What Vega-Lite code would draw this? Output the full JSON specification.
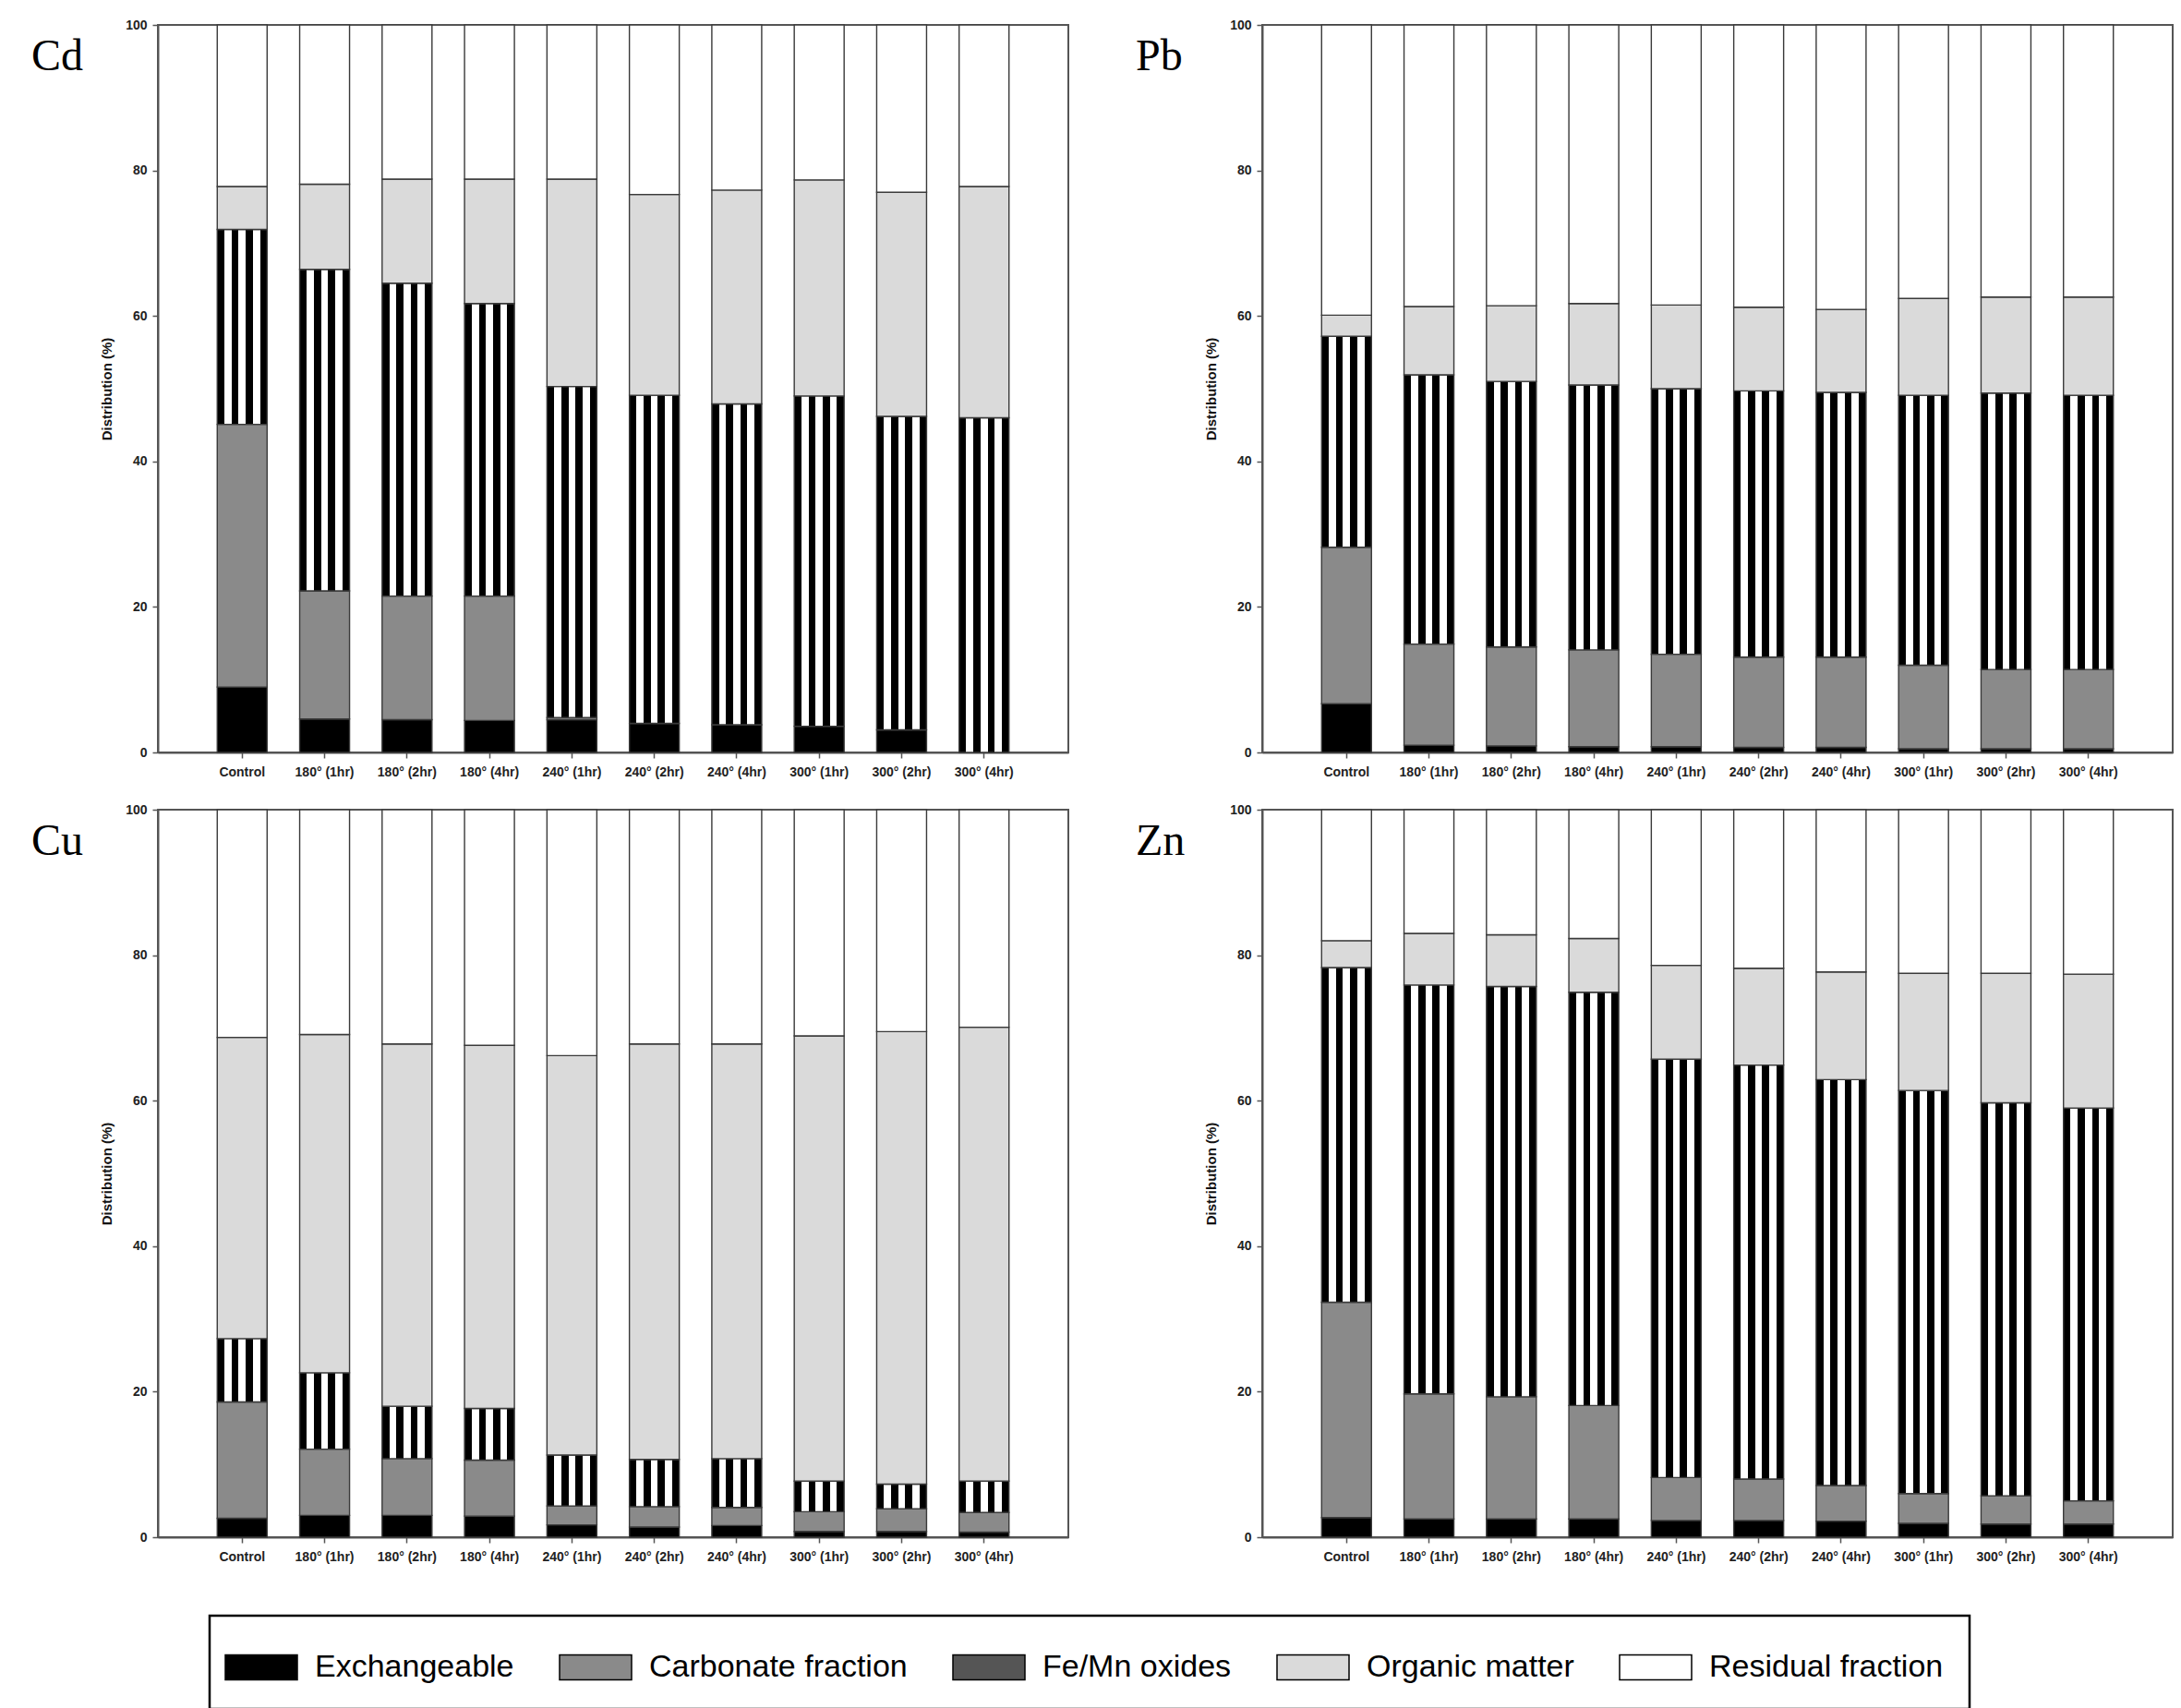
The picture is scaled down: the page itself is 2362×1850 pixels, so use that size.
{
  "$schema": "https://vega.github.io/schema/vega-lite/v6.json",
  "background": "white",
  "padding": {"left": 33, "top": 19, "right": 8, "bottom": 4},
  "autosize": {"type": "pad"},
  "datasets": {
    "fractionOrder": [
      {"fraction": "Exchangeable", "rank": 1},
      {"fraction": "Carbonate fraction", "rank": 2},
      {"fraction": "Fe/Mn oxides", "rank": 3},
      {"fraction": "Organic matter", "rank": 4},
      {"fraction": "Residual fraction", "rank": 5}
    ],
    "fractions": [
      {"metal":"Cd","treatment":"Control","fraction":"Exchangeable","value":9.0},
      {"metal":"Cd","treatment":"Control","fraction":"Carbonate fraction","value":36.1},
      {"metal":"Cd","treatment":"Control","fraction":"Fe/Mn oxides","value":26.8},
      {"metal":"Cd","treatment":"Control","fraction":"Organic matter","value":5.9},
      {"metal":"Cd","treatment":"Control","fraction":"Residual fraction","value":22.2},
      {"metal":"Cd","treatment":"180° (1hr)","fraction":"Exchangeable","value":4.6},
      {"metal":"Cd","treatment":"180° (1hr)","fraction":"Carbonate fraction","value":17.6},
      {"metal":"Cd","treatment":"180° (1hr)","fraction":"Fe/Mn oxides","value":44.2},
      {"metal":"Cd","treatment":"180° (1hr)","fraction":"Organic matter","value":11.7},
      {"metal":"Cd","treatment":"180° (1hr)","fraction":"Residual fraction","value":21.9},
      {"metal":"Cd","treatment":"180° (2hr)","fraction":"Exchangeable","value":4.5},
      {"metal":"Cd","treatment":"180° (2hr)","fraction":"Carbonate fraction","value":17.0},
      {"metal":"Cd","treatment":"180° (2hr)","fraction":"Fe/Mn oxides","value":43.0},
      {"metal":"Cd","treatment":"180° (2hr)","fraction":"Organic matter","value":14.3},
      {"metal":"Cd","treatment":"180° (2hr)","fraction":"Residual fraction","value":21.2},
      {"metal":"Cd","treatment":"180° (4hr)","fraction":"Exchangeable","value":4.4},
      {"metal":"Cd","treatment":"180° (4hr)","fraction":"Carbonate fraction","value":17.1},
      {"metal":"Cd","treatment":"180° (4hr)","fraction":"Fe/Mn oxides","value":40.2},
      {"metal":"Cd","treatment":"180° (4hr)","fraction":"Organic matter","value":17.1},
      {"metal":"Cd","treatment":"180° (4hr)","fraction":"Residual fraction","value":21.2},
      {"metal":"Cd","treatment":"240° (1hr)","fraction":"Exchangeable","value":4.5},
      {"metal":"Cd","treatment":"240° (1hr)","fraction":"Carbonate fraction","value":0.3},
      {"metal":"Cd","treatment":"240° (1hr)","fraction":"Fe/Mn oxides","value":45.5},
      {"metal":"Cd","treatment":"240° (1hr)","fraction":"Organic matter","value":28.5},
      {"metal":"Cd","treatment":"240° (1hr)","fraction":"Residual fraction","value":21.2},
      {"metal":"Cd","treatment":"240° (2hr)","fraction":"Exchangeable","value":4.0},
      {"metal":"Cd","treatment":"240° (2hr)","fraction":"Carbonate fraction","value":0.0},
      {"metal":"Cd","treatment":"240° (2hr)","fraction":"Fe/Mn oxides","value":45.1},
      {"metal":"Cd","treatment":"240° (2hr)","fraction":"Organic matter","value":27.6},
      {"metal":"Cd","treatment":"240° (2hr)","fraction":"Residual fraction","value":23.3},
      {"metal":"Cd","treatment":"240° (4hr)","fraction":"Exchangeable","value":3.8},
      {"metal":"Cd","treatment":"240° (4hr)","fraction":"Carbonate fraction","value":0.0},
      {"metal":"Cd","treatment":"240° (4hr)","fraction":"Fe/Mn oxides","value":44.1},
      {"metal":"Cd","treatment":"240° (4hr)","fraction":"Organic matter","value":29.4},
      {"metal":"Cd","treatment":"240° (4hr)","fraction":"Residual fraction","value":22.7},
      {"metal":"Cd","treatment":"300° (1hr)","fraction":"Exchangeable","value":3.6},
      {"metal":"Cd","treatment":"300° (1hr)","fraction":"Carbonate fraction","value":0.0},
      {"metal":"Cd","treatment":"300° (1hr)","fraction":"Fe/Mn oxides","value":45.4},
      {"metal":"Cd","treatment":"300° (1hr)","fraction":"Organic matter","value":29.7},
      {"metal":"Cd","treatment":"300° (1hr)","fraction":"Residual fraction","value":21.3},
      {"metal":"Cd","treatment":"300° (2hr)","fraction":"Exchangeable","value":3.1},
      {"metal":"Cd","treatment":"300° (2hr)","fraction":"Carbonate fraction","value":0.0},
      {"metal":"Cd","treatment":"300° (2hr)","fraction":"Fe/Mn oxides","value":43.1},
      {"metal":"Cd","treatment":"300° (2hr)","fraction":"Organic matter","value":30.8},
      {"metal":"Cd","treatment":"300° (2hr)","fraction":"Residual fraction","value":23.0},
      {"metal":"Cd","treatment":"300° (4hr)","fraction":"Exchangeable","value":0.0},
      {"metal":"Cd","treatment":"300° (4hr)","fraction":"Carbonate fraction","value":0.0},
      {"metal":"Cd","treatment":"300° (4hr)","fraction":"Fe/Mn oxides","value":46.0},
      {"metal":"Cd","treatment":"300° (4hr)","fraction":"Organic matter","value":31.8},
      {"metal":"Cd","treatment":"300° (4hr)","fraction":"Residual fraction","value":22.2},

      {"metal":"Pb","treatment":"Control","fraction":"Exchangeable","value":6.7},
      {"metal":"Pb","treatment":"Control","fraction":"Carbonate fraction","value":21.5},
      {"metal":"Pb","treatment":"Control","fraction":"Fe/Mn oxides","value":29.0},
      {"metal":"Pb","treatment":"Control","fraction":"Organic matter","value":2.9},
      {"metal":"Pb","treatment":"Control","fraction":"Residual fraction","value":39.9},
      {"metal":"Pb","treatment":"180° (1hr)","fraction":"Exchangeable","value":1.0},
      {"metal":"Pb","treatment":"180° (1hr)","fraction":"Carbonate fraction","value":13.9},
      {"metal":"Pb","treatment":"180° (1hr)","fraction":"Fe/Mn oxides","value":37.0},
      {"metal":"Pb","treatment":"180° (1hr)","fraction":"Organic matter","value":9.4},
      {"metal":"Pb","treatment":"180° (1hr)","fraction":"Residual fraction","value":38.7},
      {"metal":"Pb","treatment":"180° (2hr)","fraction":"Exchangeable","value":0.9},
      {"metal":"Pb","treatment":"180° (2hr)","fraction":"Carbonate fraction","value":13.6},
      {"metal":"Pb","treatment":"180° (2hr)","fraction":"Fe/Mn oxides","value":36.5},
      {"metal":"Pb","treatment":"180° (2hr)","fraction":"Organic matter","value":10.4},
      {"metal":"Pb","treatment":"180° (2hr)","fraction":"Residual fraction","value":38.6},
      {"metal":"Pb","treatment":"180° (4hr)","fraction":"Exchangeable","value":0.8},
      {"metal":"Pb","treatment":"180° (4hr)","fraction":"Carbonate fraction","value":13.3},
      {"metal":"Pb","treatment":"180° (4hr)","fraction":"Fe/Mn oxides","value":36.4},
      {"metal":"Pb","treatment":"180° (4hr)","fraction":"Organic matter","value":11.2},
      {"metal":"Pb","treatment":"180° (4hr)","fraction":"Residual fraction","value":38.3},
      {"metal":"Pb","treatment":"240° (1hr)","fraction":"Exchangeable","value":0.8},
      {"metal":"Pb","treatment":"240° (1hr)","fraction":"Carbonate fraction","value":12.7},
      {"metal":"Pb","treatment":"240° (1hr)","fraction":"Fe/Mn oxides","value":36.5},
      {"metal":"Pb","treatment":"240° (1hr)","fraction":"Organic matter","value":11.5},
      {"metal":"Pb","treatment":"240° (1hr)","fraction":"Residual fraction","value":38.5},
      {"metal":"Pb","treatment":"240° (2hr)","fraction":"Exchangeable","value":0.7},
      {"metal":"Pb","treatment":"240° (2hr)","fraction":"Carbonate fraction","value":12.4},
      {"metal":"Pb","treatment":"240° (2hr)","fraction":"Fe/Mn oxides","value":36.6},
      {"metal":"Pb","treatment":"240° (2hr)","fraction":"Organic matter","value":11.5},
      {"metal":"Pb","treatment":"240° (2hr)","fraction":"Residual fraction","value":38.8},
      {"metal":"Pb","treatment":"240° (4hr)","fraction":"Exchangeable","value":0.7},
      {"metal":"Pb","treatment":"240° (4hr)","fraction":"Carbonate fraction","value":12.4},
      {"metal":"Pb","treatment":"240° (4hr)","fraction":"Fe/Mn oxides","value":36.4},
      {"metal":"Pb","treatment":"240° (4hr)","fraction":"Organic matter","value":11.4},
      {"metal":"Pb","treatment":"240° (4hr)","fraction":"Residual fraction","value":39.1},
      {"metal":"Pb","treatment":"300° (1hr)","fraction":"Exchangeable","value":0.5},
      {"metal":"Pb","treatment":"300° (1hr)","fraction":"Carbonate fraction","value":11.5},
      {"metal":"Pb","treatment":"300° (1hr)","fraction":"Fe/Mn oxides","value":37.1},
      {"metal":"Pb","treatment":"300° (1hr)","fraction":"Organic matter","value":13.3},
      {"metal":"Pb","treatment":"300° (1hr)","fraction":"Residual fraction","value":37.6},
      {"metal":"Pb","treatment":"300° (2hr)","fraction":"Exchangeable","value":0.5},
      {"metal":"Pb","treatment":"300° (2hr)","fraction":"Carbonate fraction","value":10.9},
      {"metal":"Pb","treatment":"300° (2hr)","fraction":"Fe/Mn oxides","value":38.0},
      {"metal":"Pb","treatment":"300° (2hr)","fraction":"Organic matter","value":13.2},
      {"metal":"Pb","treatment":"300° (2hr)","fraction":"Residual fraction","value":37.4},
      {"metal":"Pb","treatment":"300° (4hr)","fraction":"Exchangeable","value":0.5},
      {"metal":"Pb","treatment":"300° (4hr)","fraction":"Carbonate fraction","value":10.9},
      {"metal":"Pb","treatment":"300° (4hr)","fraction":"Fe/Mn oxides","value":37.7},
      {"metal":"Pb","treatment":"300° (4hr)","fraction":"Organic matter","value":13.5},
      {"metal":"Pb","treatment":"300° (4hr)","fraction":"Residual fraction","value":37.4},

      {"metal":"Cu","treatment":"Control","fraction":"Exchangeable","value":2.6},
      {"metal":"Cu","treatment":"Control","fraction":"Carbonate fraction","value":16.0},
      {"metal":"Cu","treatment":"Control","fraction":"Fe/Mn oxides","value":8.7},
      {"metal":"Cu","treatment":"Control","fraction":"Organic matter","value":41.4},
      {"metal":"Cu","treatment":"Control","fraction":"Residual fraction","value":31.3},
      {"metal":"Cu","treatment":"180° (1hr)","fraction":"Exchangeable","value":3.0},
      {"metal":"Cu","treatment":"180° (1hr)","fraction":"Carbonate fraction","value":9.1},
      {"metal":"Cu","treatment":"180° (1hr)","fraction":"Fe/Mn oxides","value":10.5},
      {"metal":"Cu","treatment":"180° (1hr)","fraction":"Organic matter","value":46.5},
      {"metal":"Cu","treatment":"180° (1hr)","fraction":"Residual fraction","value":30.9},
      {"metal":"Cu","treatment":"180° (2hr)","fraction":"Exchangeable","value":3.0},
      {"metal":"Cu","treatment":"180° (2hr)","fraction":"Carbonate fraction","value":7.8},
      {"metal":"Cu","treatment":"180° (2hr)","fraction":"Fe/Mn oxides","value":7.2},
      {"metal":"Cu","treatment":"180° (2hr)","fraction":"Organic matter","value":49.8},
      {"metal":"Cu","treatment":"180° (2hr)","fraction":"Residual fraction","value":32.2},
      {"metal":"Cu","treatment":"180° (4hr)","fraction":"Exchangeable","value":2.9},
      {"metal":"Cu","treatment":"180° (4hr)","fraction":"Carbonate fraction","value":7.7},
      {"metal":"Cu","treatment":"180° (4hr)","fraction":"Fe/Mn oxides","value":7.1},
      {"metal":"Cu","treatment":"180° (4hr)","fraction":"Organic matter","value":49.9},
      {"metal":"Cu","treatment":"180° (4hr)","fraction":"Residual fraction","value":32.4},
      {"metal":"Cu","treatment":"240° (1hr)","fraction":"Exchangeable","value":1.7},
      {"metal":"Cu","treatment":"240° (1hr)","fraction":"Carbonate fraction","value":2.6},
      {"metal":"Cu","treatment":"240° (1hr)","fraction":"Fe/Mn oxides","value":7.0},
      {"metal":"Cu","treatment":"240° (1hr)","fraction":"Organic matter","value":54.9},
      {"metal":"Cu","treatment":"240° (1hr)","fraction":"Residual fraction","value":33.8},
      {"metal":"Cu","treatment":"240° (2hr)","fraction":"Exchangeable","value":1.4},
      {"metal":"Cu","treatment":"240° (2hr)","fraction":"Carbonate fraction","value":2.8},
      {"metal":"Cu","treatment":"240° (2hr)","fraction":"Fe/Mn oxides","value":6.5},
      {"metal":"Cu","treatment":"240° (2hr)","fraction":"Organic matter","value":57.1},
      {"metal":"Cu","treatment":"240° (2hr)","fraction":"Residual fraction","value":32.2},
      {"metal":"Cu","treatment":"240° (4hr)","fraction":"Exchangeable","value":1.6},
      {"metal":"Cu","treatment":"240° (4hr)","fraction":"Carbonate fraction","value":2.5},
      {"metal":"Cu","treatment":"240° (4hr)","fraction":"Fe/Mn oxides","value":6.7},
      {"metal":"Cu","treatment":"240° (4hr)","fraction":"Organic matter","value":57.0},
      {"metal":"Cu","treatment":"240° (4hr)","fraction":"Residual fraction","value":32.2},
      {"metal":"Cu","treatment":"300° (1hr)","fraction":"Exchangeable","value":0.8},
      {"metal":"Cu","treatment":"300° (1hr)","fraction":"Carbonate fraction","value":2.7},
      {"metal":"Cu","treatment":"300° (1hr)","fraction":"Fe/Mn oxides","value":4.2},
      {"metal":"Cu","treatment":"300° (1hr)","fraction":"Organic matter","value":61.2},
      {"metal":"Cu","treatment":"300° (1hr)","fraction":"Residual fraction","value":31.1},
      {"metal":"Cu","treatment":"300° (2hr)","fraction":"Exchangeable","value":0.8},
      {"metal":"Cu","treatment":"300° (2hr)","fraction":"Carbonate fraction","value":3.1},
      {"metal":"Cu","treatment":"300° (2hr)","fraction":"Fe/Mn oxides","value":3.4},
      {"metal":"Cu","treatment":"300° (2hr)","fraction":"Organic matter","value":62.2},
      {"metal":"Cu","treatment":"300° (2hr)","fraction":"Residual fraction","value":30.5},
      {"metal":"Cu","treatment":"300° (4hr)","fraction":"Exchangeable","value":0.7},
      {"metal":"Cu","treatment":"300° (4hr)","fraction":"Carbonate fraction","value":2.7},
      {"metal":"Cu","treatment":"300° (4hr)","fraction":"Fe/Mn oxides","value":4.3},
      {"metal":"Cu","treatment":"300° (4hr)","fraction":"Organic matter","value":62.4},
      {"metal":"Cu","treatment":"300° (4hr)","fraction":"Residual fraction","value":29.9},

      {"metal":"Zn","treatment":"Control","fraction":"Exchangeable","value":2.7},
      {"metal":"Zn","treatment":"Control","fraction":"Carbonate fraction","value":29.6},
      {"metal":"Zn","treatment":"Control","fraction":"Fe/Mn oxides","value":46.0},
      {"metal":"Zn","treatment":"Control","fraction":"Organic matter","value":3.7},
      {"metal":"Zn","treatment":"Control","fraction":"Residual fraction","value":18.0},
      {"metal":"Zn","treatment":"180° (1hr)","fraction":"Exchangeable","value":2.5},
      {"metal":"Zn","treatment":"180° (1hr)","fraction":"Carbonate fraction","value":17.2},
      {"metal":"Zn","treatment":"180° (1hr)","fraction":"Fe/Mn oxides","value":56.2},
      {"metal":"Zn","treatment":"180° (1hr)","fraction":"Organic matter","value":7.1},
      {"metal":"Zn","treatment":"180° (1hr)","fraction":"Residual fraction","value":17.0},
      {"metal":"Zn","treatment":"180° (2hr)","fraction":"Exchangeable","value":2.5},
      {"metal":"Zn","treatment":"180° (2hr)","fraction":"Carbonate fraction","value":16.8},
      {"metal":"Zn","treatment":"180° (2hr)","fraction":"Fe/Mn oxides","value":56.4},
      {"metal":"Zn","treatment":"180° (2hr)","fraction":"Organic matter","value":7.1},
      {"metal":"Zn","treatment":"180° (2hr)","fraction":"Residual fraction","value":17.2},
      {"metal":"Zn","treatment":"180° (4hr)","fraction":"Exchangeable","value":2.5},
      {"metal":"Zn","treatment":"180° (4hr)","fraction":"Carbonate fraction","value":15.6},
      {"metal":"Zn","treatment":"180° (4hr)","fraction":"Fe/Mn oxides","value":56.8},
      {"metal":"Zn","treatment":"180° (4hr)","fraction":"Organic matter","value":7.4},
      {"metal":"Zn","treatment":"180° (4hr)","fraction":"Residual fraction","value":17.7},
      {"metal":"Zn","treatment":"240° (1hr)","fraction":"Exchangeable","value":2.3},
      {"metal":"Zn","treatment":"240° (1hr)","fraction":"Carbonate fraction","value":5.9},
      {"metal":"Zn","treatment":"240° (1hr)","fraction":"Fe/Mn oxides","value":57.5},
      {"metal":"Zn","treatment":"240° (1hr)","fraction":"Organic matter","value":12.9},
      {"metal":"Zn","treatment":"240° (1hr)","fraction":"Residual fraction","value":21.4},
      {"metal":"Zn","treatment":"240° (2hr)","fraction":"Exchangeable","value":2.3},
      {"metal":"Zn","treatment":"240° (2hr)","fraction":"Carbonate fraction","value":5.7},
      {"metal":"Zn","treatment":"240° (2hr)","fraction":"Fe/Mn oxides","value":56.9},
      {"metal":"Zn","treatment":"240° (2hr)","fraction":"Organic matter","value":13.3},
      {"metal":"Zn","treatment":"240° (2hr)","fraction":"Residual fraction","value":21.8},
      {"metal":"Zn","treatment":"240° (4hr)","fraction":"Exchangeable","value":2.2},
      {"metal":"Zn","treatment":"240° (4hr)","fraction":"Carbonate fraction","value":4.9},
      {"metal":"Zn","treatment":"240° (4hr)","fraction":"Fe/Mn oxides","value":55.8},
      {"metal":"Zn","treatment":"240° (4hr)","fraction":"Organic matter","value":14.8},
      {"metal":"Zn","treatment":"240° (4hr)","fraction":"Residual fraction","value":22.3},
      {"metal":"Zn","treatment":"300° (1hr)","fraction":"Exchangeable","value":1.9},
      {"metal":"Zn","treatment":"300° (1hr)","fraction":"Carbonate fraction","value":4.1},
      {"metal":"Zn","treatment":"300° (1hr)","fraction":"Fe/Mn oxides","value":55.4},
      {"metal":"Zn","treatment":"300° (1hr)","fraction":"Organic matter","value":16.1},
      {"metal":"Zn","treatment":"300° (1hr)","fraction":"Residual fraction","value":22.5},
      {"metal":"Zn","treatment":"300° (2hr)","fraction":"Exchangeable","value":1.8},
      {"metal":"Zn","treatment":"300° (2hr)","fraction":"Carbonate fraction","value":3.9},
      {"metal":"Zn","treatment":"300° (2hr)","fraction":"Fe/Mn oxides","value":54.0},
      {"metal":"Zn","treatment":"300° (2hr)","fraction":"Organic matter","value":17.8},
      {"metal":"Zn","treatment":"300° (2hr)","fraction":"Residual fraction","value":22.5},
      {"metal":"Zn","treatment":"300° (4hr)","fraction":"Exchangeable","value":1.8},
      {"metal":"Zn","treatment":"300° (4hr)","fraction":"Carbonate fraction","value":3.2},
      {"metal":"Zn","treatment":"300° (4hr)","fraction":"Fe/Mn oxides","value":54.0},
      {"metal":"Zn","treatment":"300° (4hr)","fraction":"Organic matter","value":18.4},
      {"metal":"Zn","treatment":"300° (4hr)","fraction":"Residual fraction","value":22.6}
    ]
  },
  "data": {"name": "fractions"},
  "columns": 2,
  "spacing": {"row": 25, "column": 71},
  "resolve": {"scale": {"color": "shared"}},
  "concat": [
    {
      "title": {"text": "Cd", "anchor": "start", "frame": "group", "dx": -137, "offset": -66, "font": "Liberation Serif", "fontSize": 48, "fontWeight": "normal", "color": "#000000"},
      "width": 986, "height": 788,
      "transform": [{"filter": "datum.metal === 'Cd'"}, {"lookup": "fraction", "from": {"data": {"name": "fractionOrder"}, "key": "fraction", "fields": ["rank"]}}],
      "mark": {"type": "bar", "stroke": "#3a3a3a", "strokeWidth": 1.4},
      "encoding": {
        "x": {"field": "treatment", "type": "nominal", "sort": null, "scale": {"paddingInner": 0.395, "paddingOuter": 0.72}, "axis": {"title": null, "labelAngle": 0}},
        "y": {"field": "value", "type": "quantitative", "stack": "zero", "scale": {"domain": [0, 100]}, "axis": {"title": "Distribution (%)", "values": [0, 20, 40, 60, 80, 100]}},
        "order": {"field": "rank", "type": "quantitative", "sort": "ascending"},
        "color": {"field": "fraction", "type": "nominal",
          "condition": {"test": "datum.fraction === 'Fe/Mn oxides'", "value": {"gradient": "linear", "x1": 0, "y1": 0, "x2": 1, "y2": 0, "stops": [
                {"offset": 0, "color": "#000000"}, {"offset": 0.1429, "color": "#000000"},
                {"offset": 0.1429, "color": "#ffffff"}, {"offset": 0.2857, "color": "#ffffff"},
                {"offset": 0.2857, "color": "#000000"}, {"offset": 0.4286, "color": "#000000"},
                {"offset": 0.4286, "color": "#ffffff"}, {"offset": 0.5714, "color": "#ffffff"},
                {"offset": 0.5714, "color": "#000000"}, {"offset": 0.7143, "color": "#000000"},
                {"offset": 0.7143, "color": "#ffffff"}, {"offset": 0.8571, "color": "#ffffff"},
                {"offset": 0.8571, "color": "#000000"}, {"offset": 1, "color": "#000000"}]}},
          "scale": {"domain": ["Exchangeable", "Carbonate fraction", "Fe/Mn oxides", "Organic matter", "Residual fraction"],
            "range": ["#000000", "#8a8a8a", "#555555", "#dadada", "#ffffff"]},
          "legend": {"title": null, "orient": "none", "legendX": 56, "legendY": 1723, "direction": "horizontal", "columns": 5}}
      }
    },
    {
      "title": {"text": "Pb", "anchor": "start", "frame": "group", "dx": -137, "offset": -66, "font": "Liberation Serif", "fontSize": 48, "fontWeight": "normal", "color": "#000000"},
      "width": 986, "height": 788,
      "transform": [{"filter": "datum.metal === 'Pb'"}, {"lookup": "fraction", "from": {"data": {"name": "fractionOrder"}, "key": "fraction", "fields": ["rank"]}}],
      "mark": {"type": "bar", "stroke": "#3a3a3a", "strokeWidth": 1.4},
      "encoding": {
        "x": {"field": "treatment", "type": "nominal", "sort": null, "scale": {"paddingInner": 0.395, "paddingOuter": 0.72}, "axis": {"title": null, "labelAngle": 0}},
        "y": {"field": "value", "type": "quantitative", "stack": "zero", "scale": {"domain": [0, 100]}, "axis": {"title": "Distribution (%)", "values": [0, 20, 40, 60, 80, 100]}},
        "order": {"field": "rank", "type": "quantitative", "sort": "ascending"},
        "color": {"field": "fraction", "type": "nominal",
          "condition": {"test": "datum.fraction === 'Fe/Mn oxides'", "value": {"gradient": "linear", "x1": 0, "y1": 0, "x2": 1, "y2": 0, "stops": [
                {"offset": 0, "color": "#000000"}, {"offset": 0.1429, "color": "#000000"},
                {"offset": 0.1429, "color": "#ffffff"}, {"offset": 0.2857, "color": "#ffffff"},
                {"offset": 0.2857, "color": "#000000"}, {"offset": 0.4286, "color": "#000000"},
                {"offset": 0.4286, "color": "#ffffff"}, {"offset": 0.5714, "color": "#ffffff"},
                {"offset": 0.5714, "color": "#000000"}, {"offset": 0.7143, "color": "#000000"},
                {"offset": 0.7143, "color": "#ffffff"}, {"offset": 0.8571, "color": "#ffffff"},
                {"offset": 0.8571, "color": "#000000"}, {"offset": 1, "color": "#000000"}]}},
          "scale": {"domain": ["Exchangeable", "Carbonate fraction", "Fe/Mn oxides", "Organic matter", "Residual fraction"],
            "range": ["#000000", "#8a8a8a", "#555555", "#dadada", "#ffffff"]},
          "legend": {"title": null, "orient": "none", "legendX": 56, "legendY": 1723, "direction": "horizontal", "columns": 5}}
      }
    },
    {
      "title": {"text": "Cu", "anchor": "start", "frame": "group", "dx": -137, "offset": -66, "font": "Liberation Serif", "fontSize": 48, "fontWeight": "normal", "color": "#000000"},
      "width": 986, "height": 788,
      "transform": [{"filter": "datum.metal === 'Cu'"}, {"lookup": "fraction", "from": {"data": {"name": "fractionOrder"}, "key": "fraction", "fields": ["rank"]}}],
      "mark": {"type": "bar", "stroke": "#3a3a3a", "strokeWidth": 1.4},
      "encoding": {
        "x": {"field": "treatment", "type": "nominal", "sort": null, "scale": {"paddingInner": 0.395, "paddingOuter": 0.72}, "axis": {"title": null, "labelAngle": 0}},
        "y": {"field": "value", "type": "quantitative", "stack": "zero", "scale": {"domain": [0, 100]}, "axis": {"title": "Distribution (%)", "values": [0, 20, 40, 60, 80, 100]}},
        "order": {"field": "rank", "type": "quantitative", "sort": "ascending"},
        "color": {"field": "fraction", "type": "nominal",
          "condition": {"test": "datum.fraction === 'Fe/Mn oxides'", "value": {"gradient": "linear", "x1": 0, "y1": 0, "x2": 1, "y2": 0, "stops": [
                {"offset": 0, "color": "#000000"}, {"offset": 0.1429, "color": "#000000"},
                {"offset": 0.1429, "color": "#ffffff"}, {"offset": 0.2857, "color": "#ffffff"},
                {"offset": 0.2857, "color": "#000000"}, {"offset": 0.4286, "color": "#000000"},
                {"offset": 0.4286, "color": "#ffffff"}, {"offset": 0.5714, "color": "#ffffff"},
                {"offset": 0.5714, "color": "#000000"}, {"offset": 0.7143, "color": "#000000"},
                {"offset": 0.7143, "color": "#ffffff"}, {"offset": 0.8571, "color": "#ffffff"},
                {"offset": 0.8571, "color": "#000000"}, {"offset": 1, "color": "#000000"}]}},
          "scale": {"domain": ["Exchangeable", "Carbonate fraction", "Fe/Mn oxides", "Organic matter", "Residual fraction"],
            "range": ["#000000", "#8a8a8a", "#555555", "#dadada", "#ffffff"]},
          "legend": {"title": null, "orient": "none", "legendX": 56, "legendY": 1723, "direction": "horizontal", "columns": 5}}
      }
    },
    {
      "title": {"text": "Zn", "anchor": "start", "frame": "group", "dx": -137, "offset": -66, "font": "Liberation Serif", "fontSize": 48, "fontWeight": "normal", "color": "#000000"},
      "width": 986, "height": 788,
      "transform": [{"filter": "datum.metal === 'Zn'"}, {"lookup": "fraction", "from": {"data": {"name": "fractionOrder"}, "key": "fraction", "fields": ["rank"]}}],
      "mark": {"type": "bar", "stroke": "#3a3a3a", "strokeWidth": 1.4},
      "encoding": {
        "x": {"field": "treatment", "type": "nominal", "sort": null, "scale": {"paddingInner": 0.395, "paddingOuter": 0.72}, "axis": {"title": null, "labelAngle": 0}},
        "y": {"field": "value", "type": "quantitative", "stack": "zero", "scale": {"domain": [0, 100]}, "axis": {"title": "Distribution (%)", "values": [0, 20, 40, 60, 80, 100]}},
        "order": {"field": "rank", "type": "quantitative", "sort": "ascending"},
        "color": {"field": "fraction", "type": "nominal",
          "condition": {"test": "datum.fraction === 'Fe/Mn oxides'", "value": {"gradient": "linear", "x1": 0, "y1": 0, "x2": 1, "y2": 0, "stops": [
                {"offset": 0, "color": "#000000"}, {"offset": 0.1429, "color": "#000000"},
                {"offset": 0.1429, "color": "#ffffff"}, {"offset": 0.2857, "color": "#ffffff"},
                {"offset": 0.2857, "color": "#000000"}, {"offset": 0.4286, "color": "#000000"},
                {"offset": 0.4286, "color": "#ffffff"}, {"offset": 0.5714, "color": "#ffffff"},
                {"offset": 0.5714, "color": "#000000"}, {"offset": 0.7143, "color": "#000000"},
                {"offset": 0.7143, "color": "#ffffff"}, {"offset": 0.8571, "color": "#ffffff"},
                {"offset": 0.8571, "color": "#000000"}, {"offset": 1, "color": "#000000"}]}},
          "scale": {"domain": ["Exchangeable", "Carbonate fraction", "Fe/Mn oxides", "Organic matter", "Residual fraction"],
            "range": ["#000000", "#8a8a8a", "#555555", "#dadada", "#ffffff"]},
          "legend": {"title": null, "orient": "none", "legendX": 56, "legendY": 1723, "direction": "horizontal", "columns": 5}}
      }
    }
  ],
  "config": {
    "view": {"stroke": "#555555", "strokeWidth": 2},
    "axis": {"labelFont": "Liberation Sans", "labelFontSize": 14, "labelFontWeight": "bold", "labelColor": "#222222",
      "domainColor": "#555555", "domainWidth": 2, "tickColor": "#555555", "tickSize": 6, "tickWidth": 1.5, "grid": false,
      "titleFont": "Liberation Sans", "titleFontSize": 15, "titleFontWeight": "bold", "titleColor": "#111111"},
    "axisY": {"labelPadding": 6, "titlePadding": 12},
    "axisX": {"labelPadding": 8, "labelOverlap": false},
    "legend": {"labelFont": "Liberation Sans", "labelFontSize": 34, "labelColor": "#000000", "labelOffset": 30,
      "columnPadding": 45, "symbolType": "M-1.45,-0.5H1.45V0.5H-1.45Z", "symbolSize": 2894,
      "symbolStrokeColor": "#000000", "symbolStrokeWidth": 1.5, "symbolOpacity": 1,
      "strokeColor": "#000000", "strokeWidth": 2.5, "fillColor": "#ffffff", "padding": 28, "labelLimit": 400}
  }
}
